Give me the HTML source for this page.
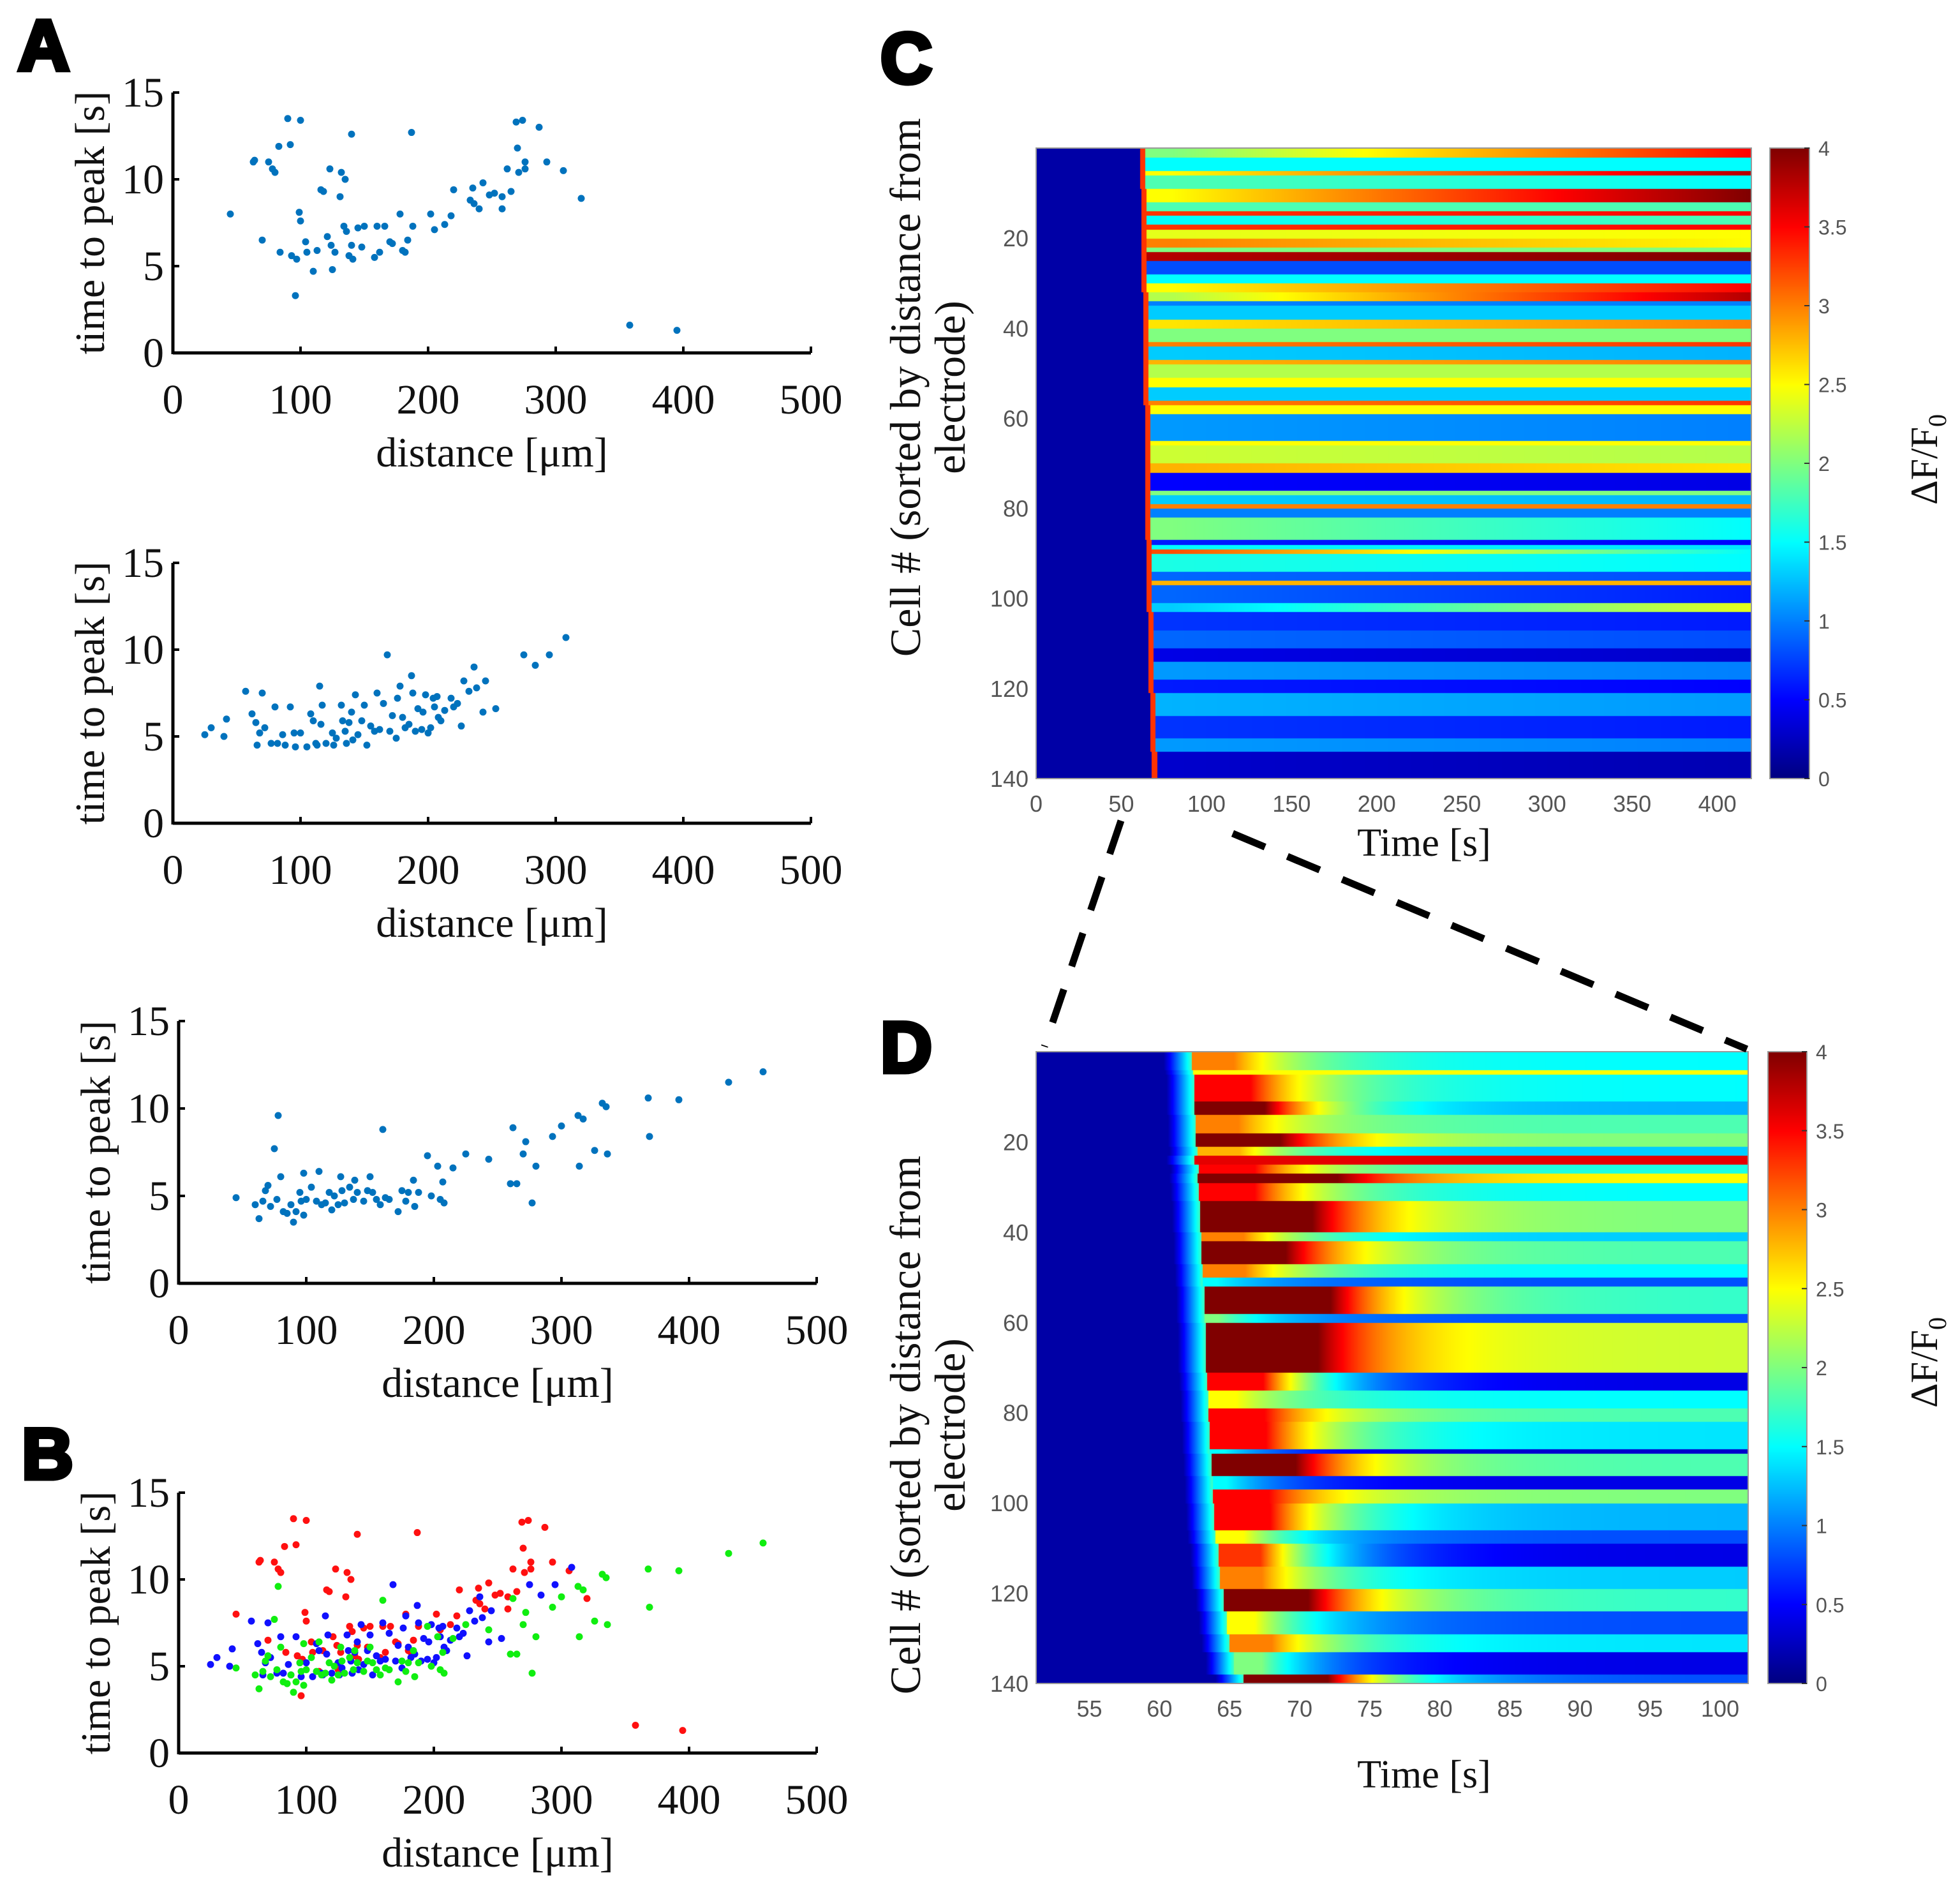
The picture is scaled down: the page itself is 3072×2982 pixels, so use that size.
<!DOCTYPE html>
<html><head><meta charset="utf-8">
<style>
html,body{margin:0;padding:0;background:#fff;}
#root{position:relative;width:3072px;height:2982px;overflow:hidden;background:#fff;}
svg{position:absolute;left:0;top:0;}
canvas{position:absolute;}
.serif{font-family:"Liberation Serif",serif;}
.sans{font-family:"Liberation Sans",sans-serif;}
</style></head>
<body>
<div id="root">
<canvas id="hmC" style="left:1624px;top:232px" width="1121" height="988"></canvas>
<canvas id="cbC" style="left:2774px;top:232px" width="62" height="988"></canvas>
<canvas id="hmD" style="left:1624px;top:1648px" width="1116" height="990"></canvas>
<canvas id="cbD" style="left:2771px;top:1648px" width="61" height="990"></canvas>
<svg id="svg" width="3072" height="2982" xmlns="http://www.w3.org/2000/svg"></svg>
</div>
<script>
// ---------- scatter data ----------
const a1X=[45,63,64,70,75,78,80,83,84,90,92,93,97,96,100,99,100,104,105,110,113,116,118,121,123,124,125,127,131,132,135,134,136,138,140,140,141,145,148,150,158,160,162,166,170,172,178,180,182,184,187,188,202,205,213,218,220,233,235,236,240,243,248,252,258,258,262,265,269,270,271,274,276,276,287,293,306,320,358,395];
const a1Y=[8,11,11.1,6.5,11,10.6,10.4,11.9,5.8,13.5,12,5.6,5.4,3.3,13.4,8.1,7.6,6.4,5.8,4.7,5.9,9.4,9.3,6.7,10.6,6.2,4.8,5.8,9,10.4,10,7.3,7,5.6,12.6,6.2,5.4,7.2,6.1,7.3,5.5,7.3,5.8,7.3,6.4,6.3,8,5.9,5.8,6.5,12.7,7.3,8,7.1,7.4,7.9,9.4,8.8,9.5,8.6,8.3,9.8,9.1,9.2,8.3,9,10.6,9.3,13.3,11.8,10.4,13.4,10.6,11,13,11,10.5,8.9,1.6,1.3];
const a2X=[25,30,40,42,57,62,65,66,68,70,72,77,80,82,86,88,92,95,96,100,105,108,110,112,113,115,116,117,120,125,126,128,132,133,135,136,138,140,141,143,145,148,150,152,155,158,160,162,165,168,170,172,175,176,178,180,182,185,187,188,190,192,195,196,198,200,202,204,205,207,208,210,213,218,220,223,226,228,232,236,238,243,245,253,275,284,295,308];
const a2Y=[5.1,5.5,5,6,7.6,6.3,5.8,4.5,5.2,7.5,5.5,4.6,6.7,4.6,5.1,4.5,6.7,5.2,4.4,5.2,4.4,6.3,5.9,4.6,4.5,7.9,5.7,6.8,4.6,5.2,4.5,4.9,6.8,5.9,5.3,4.6,5.8,6.4,4.8,7.4,5.1,5.9,6.8,4.5,5.6,5.3,7.5,5.4,6.9,9.7,5.3,6.2,4.9,7.2,7.9,6.1,5.5,5.7,8.5,7.5,5.3,6.6,5.4,6.4,7.4,5.2,5.5,7.2,6.7,7.3,6.1,5.9,6.5,7.2,6.7,6.9,5.6,8.2,7.6,9,7.8,6.4,8.2,6.6,9.7,9.1,9.7,10.7];
const a3X=[45,60,63,66,68,70,72,75,77,78,80,82,85,88,90,92,95,96,98,98,100,104,108,110,112,115,118,120,122,125,127,128,130,134,137,138,140,145,148,150,152,155,158,160,162,165,172,175,178,180,184,185,188,195,198,203,205,207,208,215,225,243,260,262,265,270,272,277,280,293,300,313,314,317,326,332,335,336,368,369,392,431,458];
const a3Y=[4.9,4.5,3.7,4.7,5.3,5.6,4.4,7.7,4.8,9.6,6.1,4.1,4,4.5,3.5,4.1,5.2,4.7,6.3,3.9,4.8,5.5,4.7,6.4,4.5,4.6,5.2,4.2,5,4.5,6.1,5.3,4.6,5.5,4.8,5.9,5.2,4.7,5.3,6.1,5.2,4.8,4.5,8.8,4.9,4.8,4.1,5.3,4.7,5.2,5.9,4.4,5.2,7.3,5,6.7,4.8,5.8,4.6,6.6,7.4,7.1,5.7,8.9,5.7,7.4,8.1,4.6,6.7,8.4,9,9.6,6.7,9.4,7.6,10.3,10.1,7.4,10.6,8.4,10.5,11.5,12.1];
const xTicksA=[0,100,200,300,400,500];
const yTicksA=[0,5,10,15];

// ---------- heatmap C (segments of rows) ----------
const segStartC=[0,2,5,6,9,12,14,15,17,18,20,22,23,25,28,30,32,34,35,38,40,43,44,47,48,51,53,56,57,59,65,66,70,72,76,77,79,80,82,87,88,89,90,94,96,97,101,103,107,111,114,118,121,126,131,134];
const earlyC=[2,1.5,2.5,1.8,2.5,1.8,3.3,1.5,3.3,2.4,3,2,3.8,0.8,1.5,2.5,2.2,1,1.3,2.6,2,3,1.3,2.8,2.2,2.5,1.3,3,2.5,1.1,2.5,2.3,2.8,0.5,2,1.3,3,1,2,0.6,1.5,3.2,1.6,0.9,2.8,0.9,1.3,0.7,0.9,0.4,1.1,0.6,1.2,0.7,1.1,0.3];
const lateC=[3.5,1.5,3.8,1.5,4,1.8,3.5,1.8,3.5,2.5,2.5,2,4,0.8,1.5,3.5,3.8,1,1.3,3,2,3.3,1.2,3,2.2,2.5,1.3,3.3,2.5,1,2.5,2.2,2.6,0.4,2,1.2,3,1,1.5,0.5,1.4,1.5,1.5,0.8,2.8,0.6,2.4,0.6,0.8,0.3,1,0.5,1.1,0.6,1,0.2];
const onsetC=[61,61,61,61,62,62,62,62,62,62,62,62,62,62,62,62,63,63,63,63,63,63,63,63,63,63,63,63,64,64,64,64,64,64,64,64,64,64,64,65,65,65,65,65,65,65,65,66,66,66,66,66,67,67,67,68];
const xTicksC=[0,50,100,150,200,250,300,350,400];
const yTicksHm=[20,40,60,80,100,120,140];
const cbTicks=[0,0.5,1,1.5,2,2.5,3,3.5,4];

// ---------- heatmap D ----------
const segStartD=[0,4,5,11,14,18,21,23,25,27,29,33,40,42,47,50,52,58,60,71,75,79,82,88,89,94,97,100,106,109,114,119,124,129,133,138];
const peakD=[3,2.5,3.5,4,3,4,2.8,3.6,3.5,4,3.5,4,3,4,3,1.5,4,2,4,3.5,2.5,3.5,3.5,1.5,4,1.5,3.5,3.5,2.5,3.3,3,4,2.5,3,2,4];
const peakLenD=[3,40,4,5,3,6,3,40,4,10,4,8,3,6,3,1,9,1,8,4,2,4,4,1,6,1,4,4,2,3,3,6,2,3,2,6];
const tailD=[1.5,2.5,1.5,1.2,1.8,2,1.3,3.5,1.6,2.5,1.5,2,1.3,1.8,1.5,0.8,1.7,0.8,2.3,0.4,1.5,1.8,1.4,0.3,1.8,0.4,2,1.2,0.8,0.4,1.3,1.7,0.8,1.4,0.4,0.8];
const onsetD=[62.3,62.4,62.5,62.5,62.6,62.6,62.7,62.5,62.8,62.7,62.8,62.9,63,63,63.1,63.1,63.2,63.2,63.3,63.4,63.5,63.5,63.6,63.6,63.7,63.8,63.8,63.9,64,64.2,64.3,64.6,64.8,65,65.3,66];
const xTicksD=[55,60,65,70,75,80,85,90,95,100];

// ---------- helpers ----------
const NS="http://www.w3.org/2000/svg";
const svg=document.getElementById('svg');
function mk(tag,attrs,parent){const e=document.createElementNS(NS,tag);for(const k in attrs)e.setAttribute(k,attrs[k]);(parent||svg).appendChild(e);return e;}
function txt(s,attrs,parent){const e=mk('text',attrs,parent);e.textContent=s;return e;}
function jet(v){v=Math.max(0,Math.min(1,v));
  const r=Math.max(0,Math.min(1,1.5-Math.abs(4*v-3)));
  const g=Math.max(0,Math.min(1,1.5-Math.abs(4*v-2)));
  const b=Math.max(0,Math.min(1,1.5-Math.abs(4*v-1)));
  return [Math.round(r*255),Math.round(g*255),Math.round(b*255)];}

// ---------- scatter panels ----------
function scatterPanel(name,ax,y0,y15,series){
  const x500=ax+1000;
  const sx=v=>ax+(v/500)*(x500-ax);
  const sy=v=>y0-(v/15)*(y0-y15);
  const g=mk('g',{});
  
  
  const axX=mk('line',{x1:ax,y1:y0,x2:x500,y2:y0,stroke:'#000','stroke-width':5},g);
  
  const axY=mk('line',{x1:ax,y1:y0+2,x2:ax,y2:y15,stroke:'#000','stroke-width':5},g);
  
  xTicksA.forEach(t=>{
    mk('line',{x1:sx(t),y1:y0,x2:sx(t),y2:y0-10,stroke:'#000','stroke-width':4},g);
    const l=txt(String(t),{x:sx(t),y:y0+95,'text-anchor':'middle','font-size':66,class:'serif',fill:'#111'},g);
    
  });
  yTicksA.forEach(t=>{
    mk('line',{x1:ax,y1:sy(t),x2:ax+10,y2:sy(t),stroke:'#000','stroke-width':4},g);
    const l=txt(String(t),{x:ax-14,y:sy(t)+22,'text-anchor':'end','font-size':66,class:'serif',fill:'#111'},g);
    
  });
  const xl=txt('distance [\u03BCm]',{x:(ax+x500)/2,y:y0+178,'text-anchor':'middle','font-size':66,class:'serif',fill:'#111'},g);
  
  const cy=(y0+y15)/2;
  const yl=txt('time to peak [s]',{x:0,y:0,'text-anchor':'middle','font-size':66,class:'serif',fill:'#111',transform:`translate(${ax-108},${cy}) rotate(-90)`},g);
  
  series.forEach(s=>{
    s.xs.forEach((xv,i)=>{
      const c=mk('circle',{cx:sx(xv),cy:sy(s.ys[i]),r:5.5,fill:s.color},g);
      
      
    });
  });
}
scatterPanel('panel-a-plot-1',271,553,145,[{xs:a1X,ys:a1Y,color:'#0072BD'}]);
scatterPanel('panel-a-plot-2',271,1290,882,[{xs:a2X,ys:a2Y,color:'#0072BD'}]);
scatterPanel('panel-a-plot-3',280,2011,1600,[{xs:a3X,ys:a3Y,color:'#0072BD'}]);
scatterPanel('panel-b-plot',280,2747,2339,[{xs:a1X,ys:a1Y,color:'#ff1010'},{xs:a2X,ys:a2Y,color:'#1010ff'},{xs:a3X,ys:a3Y,color:'#10ee10'}]);

// ---------- panel letters ----------
[['A',28,110],['B',34,2317],['C',1380,130],['D',1380,1680]].forEach(p=>{
  const t=txt(p[0],{x:p[1],y:p[2],'font-size':112,'font-weight':'bold',class:'sans',fill:'#000',stroke:'#000','stroke-width':7});
  
  
});

// ---------- heatmaps ----------
function segIndex(starts,r){let k=0;for(let i=0;i<starts.length;i++)if(r>=starts[i])k=i;return k;}
function drawHeat(id,rows,tmin,tmax,valFn){
  const cv=document.getElementById(id),ctx=cv.getContext('2d');
  const W=cv.width,H=cv.height,img=ctx.createImageData(W,H);
  for(let y=0;y<H;y++){
    const r=Math.floor(y/H*rows);
    for(let x=0;x<W;x++){
      const t=tmin+(x+0.5)/W*(tmax-tmin);
      const c=jet(valFn(r,t)/4);
      const o=(y*W+x)*4;img.data[o]=c[0];img.data[o+1]=c[1];img.data[o+2]=c[2];img.data[o+3]=255;
    }
  }
  ctx.putImageData(img,0,0);
}
drawHeat('hmC',140,0,420,(r,t)=>{
  const k=segIndex(segStartC,r);
  const on=onsetC[k];
  if(t<on) return 0.15;
  if(t<on+3) return 3.3;
  const f=Math.min(1,Math.max(0,(t-80)/340));
  return earlyC[k]+(lateC[k]-earlyC[k])*f;
});
drawHeat('hmD',140,51.2,102,(r,t)=>{
  const k=segIndex(segStartD,r);
  const on=onsetD[k];
  if(t<on-2) return 0.15;
  if(t<on) return 0.15+(t-(on-2))/2*1.6;
  const pe=on+peakLenD[k];
  if(t<pe) return peakD[k];
  const d=(t-pe);
  return tailD[k]+(peakD[k]-tailD[k])*Math.exp(-d/5);
});
function drawCb(id){
  const cv=document.getElementById(id),ctx=cv.getContext('2d');
  for(let y=0;y<cv.height;y++){const c=jet(1-y/cv.height);ctx.fillStyle=`rgb(${c[0]},${c[1]},${c[2]})`;ctx.fillRect(0,y,cv.width,1);}
}
drawCb('cbC');drawCb('cbD');

function heatAxes(name,left,right,top,bottom,tmin,tmax,xTicks,cbL,cbR,ylabY,xlabY,dfY){
  const g=mk('g',{});
  
  
  mk('rect',{x:left,y:top,width:right-left,height:bottom-top,fill:'none',stroke:'#999','stroke-width':2},g);
  const sx=t=>left+(t-tmin)/(tmax-tmin)*(right-left);
  const sy=r=>top+r/140*(bottom-top);
  xTicks.forEach(t=>{
    const l=txt(String(t),{x:sx(t),y:bottom+52,'text-anchor':'middle','font-size':36,class:'sans',fill:'#555'},g);
    
  });
  yTicksHm.forEach(r=>{
    const l=txt(String(r),{x:left-12,y:sy(r)+13,'text-anchor':'end','font-size':36,class:'sans',fill:'#555'},g);
    
  });
  mk('rect',{x:cbL,y:top,width:cbR-cbL,height:bottom-top,fill:'none',stroke:'#999','stroke-width':2},g);
  cbTicks.forEach(v=>{
    const y=bottom-v/4*(bottom-top);
    mk('line',{x1:cbR-8,y1:y,x2:cbR,y2:y,stroke:'#333','stroke-width':2},g);
    const l=txt(String(v),{x:cbR+14,y:y+12,'font-size':32,class:'sans',fill:'#555'},g);
    
  });
  const xl=txt('Time [s]',{x:2232,y:xlabY,'text-anchor':'middle','font-size':62,class:'serif',fill:'#111'},g);
  
  const yl=mk('text',{'text-anchor':'middle','font-size':68,class:'serif',fill:'#111',transform:`translate(1442,${ylabY}) rotate(-90)`},g);
  
  const t1=mk('tspan',{x:0,y:0},yl);t1.textContent='Cell # (sorted by distance from';
  const t2=mk('tspan',{x:0,y:70},yl);t2.textContent='electrode)';
  const df=mk('text',{'text-anchor':'middle','font-size':60,class:'serif',fill:'#111',transform:`translate(3036,${dfY}) rotate(-90)`},g);
  
  const s1=mk('tspan',{},df);s1.textContent='\u0394F/F';
  const s2=mk('tspan',{'font-size':40,dy:14},df);s2.textContent='0';
}
heatAxes('panel-c-axes',1624,2745,232,1220,0,420,xTicksC,2774,2836,607,1341,720);
heatAxes('panel-d-axes',1624,2740,1648,2638,51.2,102,xTicksD,2771,2832,2233,2801,2135);

// ---------- zoom connector lines ----------
const d1=mk('line',{x1:1757,y1:1286,x2:1637,y2:1640,stroke:'#000','stroke-width':11,'stroke-dasharray':'55 38'});

const d2=mk('line',{x1:1932,y1:1306,x2:2738,y2:1644,stroke:'#000','stroke-width':11,'stroke-dasharray':'55 38'});

</script>
</body></html>
